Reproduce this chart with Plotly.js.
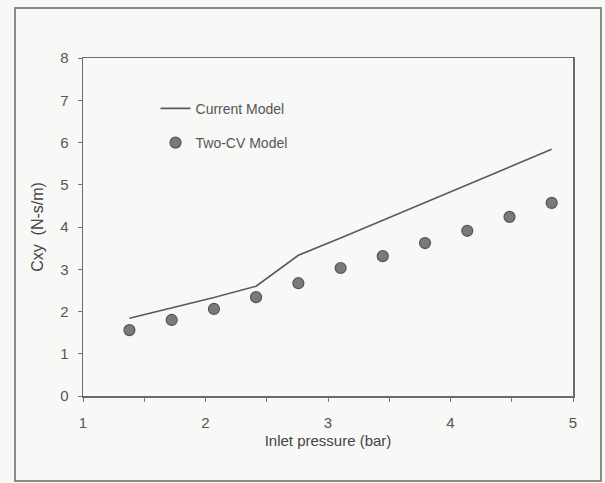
<!DOCTYPE html>
<html>
<head>
<meta charset="utf-8">
<script src="https://cdn.plot.ly/plotly-3.0.1.min.js"></script>
<style>
  html, body { margin:0; padding:0; background:#f8f8f6; }
  #chart { width:605px; height:483px; }
  #frame { position:absolute; left:14px; top:7px; width:584px; height:471px;
           border:2px solid #8a8a8a; pointer-events:none; }
</style>
</head>
<body>
<div id="chart"></div>
<div id="frame"></div>
<script>
// Inlet pressure (bar)
const pressure = [1.379, 1.724, 2.069, 2.413, 2.758, 3.103, 3.447, 3.792, 4.137, 4.482, 4.826];
// Current Model (line)
const currentModel = [1.84, 2.08, 2.33, 2.60, 3.33, 3.74, 4.16, 4.58, 5.00, 5.42, 5.84];
// Two-CV Model (markers)
const twoCVModel = [1.56, 1.80, 2.06, 2.34, 2.67, 3.03, 3.31, 3.62, 3.91, 4.24, 4.57];

const xTicks = [1, 2, 3, 4, 5];
const yTicks = [0, 1, 2, 3, 4, 5, 6, 7, 8];

const fontFam = 'Liberation Sans, Arial, sans-serif';

const traces = [
  {
    x: pressure, y: currentModel, name: 'Current Model',
    type: 'scatter', mode: 'lines', legendgroup: 'a',
    line: { color: '#5a5a5a', width: 1.6 }
  },
  {
    x: pressure, y: twoCVModel, name: 'Two-CV Model',
    type: 'scatter', mode: 'markers', legendgroup: 'b',
    marker: { color: '#7a7a7a', size: 11, line: { color: '#555', width: 1.2 } }
  }
];

const layout = {
  width: 605, height: 483,
  margin: { l: 83, r: 32, t: 58, b: 87 },
  paper_bgcolor: '#f8f8f6',
  plot_bgcolor: '#f8f8f6',
  font: { family: fontFam, color: '#555', size: 15 },
  showlegend: true,
  legend: {
    x: 0.148, y: 0.897, xanchor: 'left', yanchor: 'top',
    bgcolor: 'rgba(0,0,0,0)',
    font: { family: fontFam, size: 14, color: '#555' },
    tracegroupgap: 13
  },
  xaxis: {
    range: [1, 5], tickvals: xTicks, ticktext: xTicks.map(String),
    ticks: 'outside', ticklen: 4, tickcolor: '#777',
    ticklabelstandoff: 8,
    minor: { dtick: 0.5, ticks: 'outside', ticklen: 4, tickcolor: '#777' },
    showgrid: false, zeroline: false,
    showline: true, linecolor: '#6a6a6a', linewidth: 1.5, mirror: true,
    tickfont: { family: fontFam, size: 15, color: '#555' },
    title: { text: 'Inlet pressure (bar)', font: { family: fontFam, size: 15, color: '#444' }, standoff: 6 }
  },
  yaxis: {
    range: [0, 8], tickvals: yTicks, ticktext: yTicks.map(String),
    ticks: 'outside', ticklen: 4, tickcolor: '#777',
    ticklabelstandoff: 6,
    showgrid: false, zeroline: false,
    showline: true, linecolor: '#6a6a6a', linewidth: 1.5, mirror: true,
    tickfont: { family: fontFam, size: 15, color: '#555' },
    title: { text: 'Cxy  (N-s/m)', font: { family: fontFam, size: 16, color: '#444' }, standoff: 12 }
  }
};

Plotly.newPlot('chart', traces, layout, { displayModeBar: false, staticPlot: true });
</script>
</body>
</html>
